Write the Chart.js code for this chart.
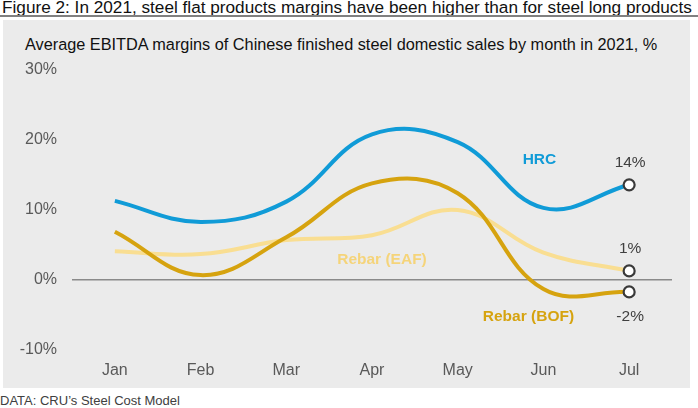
<!DOCTYPE html>
<html>
<head>
<meta charset="utf-8">
<script src="https://cdn.jsdelivr.net/npm/chart.js@4"></script>
<style>
  html, body { margin: 0; padding: 0; background: #fff; }
  #wrap { position: relative; width: 698px; height: 408px; overflow: hidden; font-family: "Liberation Sans", Arial, sans-serif; }
  #title { position: absolute; left: 2px; top: -3px; font-size: 17.2px; color: #111; white-space: nowrap; }
  #rule { position: absolute; left: 0; top: 15px; width: 698px; height: 2px; background: #808080; }
  #panel { position: absolute; left: 3px; top: 20px; width: 687px; height: 368px; background: #ebebeb; }
  #sub { position: absolute; left: 25px; top: 35px; font-size: 16.3px; color: #111; white-space: nowrap; }
  #foot { position: absolute; left: 0px; top: 393px; font-size: 13px; color: #404040; white-space: nowrap; }
  canvas { position: absolute; left: 0; top: 0; }
</style>
</head>
<body>
<div id="wrap">
  <div id="title">Figure 2: In 2021, steel flat products margins have been higher than for steel long products</div>
  <div id="rule"></div>
  <div id="panel"></div>
  <div id="sub">Average EBITDA margins of Chinese finished steel domestic sales by month in 2021, %</div>
  <div id="foot">DATA: CRU’s Steel Cost Model</div>
  <canvas id="c" width="698" height="408"></canvas>
</div>
<script>
const months = ["Jan", "Feb", "Mar", "Apr", "May", "Jun", "Jul"];
const hrc = [11.3, 8.3, 11.2, 20.8, 19.7, 10.3, 13.6];
const rebarBOF = [6.9, 0.7, 6.1, 13.8, 12.4, -1.3, -1.7];
const rebarEAF = [4.1, 3.7, 5.7, 6.4, 10.0, 3.9, 1.3];
const yTicks = [-10, 0, 10, 20, 30];
const endLabels = ["14%", "1%", "-2%"];
const seriesNames = ["HRC", "Rebar (EAF)", "Rebar (BOF)"];

const lastOnly = (arr, v) => arr.map((_, i) => i === arr.length - 1 ? v : 0);

function ds(data, color) {
  return {
    data: data,
    borderColor: color,
    borderWidth: 4,
    tension: 0.4,
    fill: false,
    pointRadius: lastOnly(data, 5.5),
    pointHoverRadius: 0,
    pointBackgroundColor: "#ffffff",
    pointBorderColor: "#3a3a3a",
    pointBorderWidth: 2.2
  };
}

const labelPlugin = {
  id: "labels",
  afterDatasetsDraw(chart) {
    const ctx = chart.ctx;
    const x = chart.scales.x, y = chart.scales.y;
    ctx.save();
    ctx.textAlign = "center";
    ctx.textBaseline = "middle";
    ctx.font = "bold 15.5px 'Liberation Sans', Arial, sans-serif";
    ctx.fillStyle = "#109bd7";
    ctx.fillText(seriesNames[0], x.getPixelForValue(5) - 4, y.getPixelForValue(17.2));
    ctx.fillStyle = "#f5d47a";
    ctx.fillText(seriesNames[1], x.getPixelForValue(3) + 10, y.getPixelForValue(2.9));
    ctx.fillStyle = "#d6a30f";
    ctx.fillText(seriesNames[2], x.getPixelForValue(5) - 15, y.getPixelForValue(-5.2));
    ctx.font = "15.5px 'Liberation Sans', Arial, sans-serif";
    ctx.fillStyle = "#404040";
    const xe = x.getPixelForValue(6) + 1;
    ctx.fillText(endLabels[0], xe, y.getPixelForValue(16.8));
    ctx.fillText(endLabels[1], xe, y.getPixelForValue(4.5));
    ctx.fillText(endLabels[2], xe, y.getPixelForValue(-5.2));
    ctx.restore();
  }
};

new Chart(document.getElementById("c"), {
  type: "line",
  data: {
    labels: months,
    datasets: [
      ds(hrc, "#109bd7"),
      ds(rebarBOF, "#d6a30f"),
      ds(rebarEAF, "#f9de92")
    ]
  },
  options: {
    responsive: false,
    animation: false,
    devicePixelRatio: 1,
    layout: { padding: { left: 0, right: 26, top: 70, bottom: 20 } },
    plugins: { legend: { display: false }, tooltip: { enabled: false } },
    scales: {
      x: {
        offset: true,
        grid: { display: false, drawTicks: false },
        border: { display: false },
        ticks: { padding: 11, color: "#595959", font: { family: "'Liberation Sans', Arial, sans-serif", size: 16 } },
        afterFit(s) { s.height = 38; }
      },
      y: {
        min: -10, max: 30,
        afterBuildTicks(s) { s.ticks = yTicks.map(v => ({ value: v })); },
        grid: {
          drawTicks: false,
          color: c => (c.tick && c.tick.value === 0) ? "#8a8a8a" : "rgba(0,0,0,0)",
          lineWidth: 1.5
        },
        border: { display: false },
        ticks: {
          padding: 15,
          color: "#595959",
          font: { family: "'Liberation Sans', Arial, sans-serif", size: 16 },
          callback: v => v + "%"
        },
        afterFit(s) { s.width = 72; }
      }
    }
  },
  plugins: [labelPlugin]
});
</script>
</body>
</html>
